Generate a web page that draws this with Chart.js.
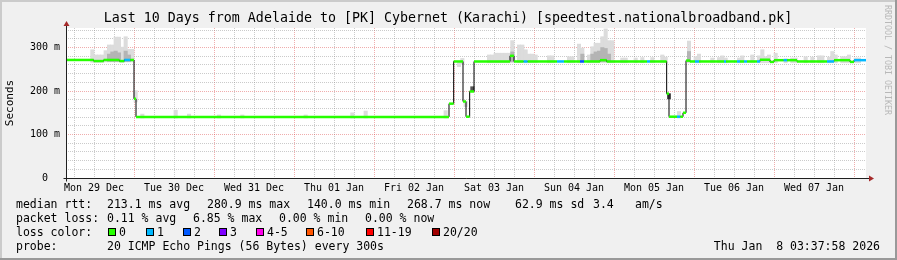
<!DOCTYPE html>
<html>
<head>
<meta charset="utf-8">
<script src="https://cdn.jsdelivr.net/npm/chart.js@4/dist/chart.umd.min.js"></script>
<style>
  html, body { margin: 0; padding: 0; background: #f0f0f0; }
  canvas { display: block; }
</style>
</head>
<body>
<canvas id="smokeChart" width="897" height="260"></canvas>
<script>
const DAY_LABELS = ['Mon 29 Dec', 'Tue 30 Dec', 'Wed 31 Dec', 'Thu 01 Jan', 'Fri 02 Jan',
                    'Sat 03 Jan', 'Sun 04 Jan', 'Mon 05 Jan', 'Tue 06 Jan', 'Wed 07 Jan'];
const Y_LABELS = ['0  ', '100 m', '200 m', '300 m'];

const LOSS_LABELS = ['0', '1', '2', '3', '4-5', '6-10', '11-19', '20/20'];
const LOSS_COLORS = ['#26ff00', '#00b8ff', '#0059ff', '#7e00ff', '#ff00ea', '#ff5500', '#ff0000', '#a10000'];

// hours since Mon 29 Dec 00:00
const START_HOUR = 3.6;
const END_HOUR = 243.6;

// median rtt (ms), each value holds until the next change point
const medianHours = [3.6, 11.9, 14.9, 19.6, 21.1, 22.9, 24, 24.6, 118.5, 119.9,
                     122.7, 123.6, 124.7, 126, 136.8, 138, 140.9, 142.1, 150.9, 153,
                     157.8, 159, 163.8, 165.8, 177.9, 178.8, 183.8, 184.5, 186.9, 187.9,
                     188.7, 189.6, 190.8, 192.3, 193.5, 201, 201.6, 204.9, 205.8, 207,
                     207.9, 210.9, 211.8, 214.8, 216, 218.9, 219.9, 222.9, 231.9, 234,
                     238.8, 240];
const medianMs = [271.5, 269, 271.5, 269, 271.5, 271.5, 182, 140.5, 171, 268,
                  176, 141, 199, 268, 281, 268, 268, 268, 268, 268,
                  268, 268, 271, 268, 268, 268, 194, 141, 141, 141,
                  150, 270, 268, 268, 268, 268, 268, 268, 268, 268,
                  268, 268, 272, 267, 271, 271, 271, 268, 268, 271,
                  267, 271];
const medianLoss = [0, 0, 0, 0, 1, 0, 0, 0, 0, 0,
                    0, 0, 0, 0, 0, 0, 1, 0, 1, 0,
                    2, 0, 0, 0, 1, 0, 0, 0, 1, 0,
                    0, 0, 0, 1, 0, 1, 0, 1, 0, 1,
                    0, 1, 0, 0, 0, 1, 0, 0, 1, 0,
                    0, 1];

// smoke: hourly slots, min..max ping (ms)
const smokeHours = [11, 12, 13, 14, 15, 16, 17, 18, 19, 20, 21, 22, 23, 24,
                    26, 36, 40, 49, 56, 75, 89, 93, 117,
                    121, 122, 123, 130, 131, 132, 133, 134, 135, 136, 137, 139, 140,
                    141, 142, 143, 144, 148, 149, 154, 155, 157, 158, 160, 161, 162,
                    163, 164, 165, 166, 167, 170, 171, 174, 176, 179, 182, 183, 187,
                    190, 192, 193, 197, 199, 200, 201, 205, 206, 209, 211, 212, 213,
                    214, 216, 219, 221, 222, 225, 227, 229, 230, 232, 233, 234, 236,
                    237, 238, 240, 241];
const smokeLow = [266, 266, 266, 266, 267, 267, 267, 267, 267, 266, 267, 267, 267, 175,
                  138, 138, 138, 138, 138, 138, 138, 138, 138,
                  256, 262, 164, 265, 265, 265, 265, 265, 265, 265, 265, 265, 265,
                  265, 265, 265, 265, 265, 265, 265, 265, 265, 265, 265, 265, 265,
                  265, 265, 265, 265, 265, 265, 265, 265, 265, 265, 265, 265, 138,
                  265, 265, 265, 265, 265, 265, 265, 265, 265, 265, 265, 265, 265,
                  265, 265, 265, 265, 265, 265, 265, 265, 265, 265, 265, 265, 265,
                  265, 265, 265, 265];
const smokeHigh = [295, 283, 283, 283, 293, 306, 306, 324, 324, 301, 325, 296, 296, 201,
                   147, 156, 147, 145, 145, 145, 150, 154, 155,
                   268, 275, 176, 283, 283, 287, 287, 287, 287, 287, 316, 306, 306,
                   295, 285, 285, 283, 281, 281, 279, 279, 308, 299, 283, 302, 310,
                   310, 325, 343, 316, 316, 276, 276, 276, 277, 277, 283, 278, 153,
                   315, 279, 285, 276, 277, 281, 276, 276, 281, 283, 281, 295, 279,
                   283, 287, 274, 276, 276, 279, 278, 281, 281, 278, 291, 283, 279,
                   279, 283, 276, 276];

// denser core of the smoke
const coreHours = [16, 17, 18, 19, 21, 22, 125, 137, 158, 161, 162, 163, 164, 165, 166, 184, 190];
const coreLow = [268, 268, 268, 268, 268, 268, 199, 268, 268, 268, 268, 268, 268, 268, 268, 182, 268];
const coreHigh = [285, 290, 292, 288, 292, 283, 210, 290, 285, 285, 290, 292, 300, 298, 285, 194, 291];

const RTT_STATS = ['213.1 ms avg', '280.9 ms max', '140.0 ms min', '268.7 ms now', '62.9 ms sd', '3.4', 'am/s'];
const LOSS_STATS = ['0.11 % avg', '6.85 % max', '0.00 % min', '0.00 % now'];
const TITLE = 'Last 10 Days from Adelaide to [PK] Cybernet (Karachi) [speedtest.nationalbroadband.pk]';
const PROBE = '20 ICMP Echo Pings (56 Bytes) every 300s';
const STAMP = 'Thu Jan  8 03:37:58 2026';

const MONO = '"DejaVu Sans Mono", "Liberation Mono", monospace';
const GRID = { minor: 'rgba(140, 140, 140, 0.45)', major: 'rgba(220, 60, 60, 0.42)' };

const xTicks = Array.from({ length: 40 }, (_, i) => ({ value: 6 * (i + 1) }));
const yTicks = Array.from({ length: 18 }, (_, i) => ({ value: 20 * i }));

const medianPoints = medianHours.map((h, i) => ({ x: h, y: medianMs[i] }))
    .concat([{ x: END_HOUR, y: medianMs[medianMs.length - 1] }]);

// one horizontal piece per change point, broken by a null so the verticals stay black
const lossPieces = medianHours.flatMap((h, i) => {
    const end = i + 1 < medianHours.length ? medianHours[i + 1] : END_HOUR;
    return [{ x: h, y: medianMs[i] }, { x: end, y: medianMs[i] }, { x: end, y: null }];
});

const toBars = (hours, low, high) => hours.map((h, i) => ({ x: h + 0.5, y: [low[i], high[i]] }));

const rrdFrame = {
    id: 'rrdFrame',
    beforeDraw(chart) {
        const { ctx, chartArea: a, width, height } = chart;
        ctx.save();
        ctx.fillStyle = '#f0f0f0';
        ctx.fillRect(0, 0, width, height);
        ctx.fillStyle = '#cbcbcb';
        ctx.fillRect(0, 0, width, 2);
        ctx.fillRect(0, 0, 2, height);
        ctx.fillStyle = '#999999';
        ctx.fillRect(0, height - 2, width, 2);
        ctx.fillRect(width - 2, 0, 2, height);
        ctx.fillStyle = '#ffffff';
        ctx.fillRect(a.left, a.top, a.right - a.left, a.bottom - a.top);
        ctx.restore();
    },
    afterDraw(chart) {
        const { ctx, chartArea: a } = chart;
        const ax = Math.floor(a.left) + 0.5;
        const ay = Math.floor(a.bottom) + 0.5;
        ctx.save();

        // axes with arrows
        ctx.strokeStyle = '#202020';
        ctx.lineWidth = 1;
        ctx.beginPath();
        ctx.moveTo(ax, ay + 3);
        ctx.lineTo(ax, a.top - 3);
        ctx.moveTo(ax - 3, ay);
        ctx.lineTo(a.right + 4, ay);
        ctx.stroke();
        ctx.fillStyle = '#a52a2a';
        ctx.beginPath();
        ctx.moveTo(ax - 3, a.top - 2);
        ctx.lineTo(ax + 3, a.top - 2);
        ctx.lineTo(ax, a.top - 7);
        ctx.closePath();
        ctx.fill();
        ctx.beginPath();
        ctx.moveTo(a.right + 3, ay - 3);
        ctx.lineTo(a.right + 3, ay + 3);
        ctx.lineTo(a.right + 8, ay);
        ctx.closePath();
        ctx.fill();

        // title
        ctx.fillStyle = '#000';
        ctx.font = `13.3px ${MONO}`;
        ctx.textAlign = 'center';
        ctx.textBaseline = 'alphabetic';
        ctx.fillText(TITLE, 448, 22);

        // legend block
        ctx.font = `11.5px ${MONO}`;
        ctx.textAlign = 'left';
        ctx.fillText('median rtt:', 16, 208);
        [107, 207, 307, 407, 515, 593, 635].forEach((x, i) => ctx.fillText(RTT_STATS[i], x, 208));
        ctx.fillText('packet loss:', 16, 222);
        [107, 193, 279, 365].forEach((x, i) => ctx.fillText(LOSS_STATS[i], x, 222));
        ctx.fillText('loss color:', 16, 236);
        [108, 146, 183, 219, 256, 306, 366, 432].forEach((x, i) => {
            ctx.fillStyle = LOSS_COLORS[i];
            ctx.fillRect(x, 228, 8, 8);
            ctx.strokeStyle = '#000';
            ctx.strokeRect(x + 0.5, 228.5, 7, 7);
            ctx.fillStyle = '#000';
            ctx.fillText(LOSS_LABELS[i], x + 11, 236);
        });
        ctx.fillText('probe:', 16, 250);
        ctx.fillText(PROBE, 107, 250);
        ctx.textAlign = 'right';
        ctx.fillText(STAMP, 880, 250);

        // watermark
        ctx.translate(887, 5);
        ctx.rotate(Math.PI / 2);
        ctx.font = `8.3px ${MONO}`;
        ctx.fillStyle = '#b8b8b8';
        ctx.textAlign = 'left';
        ctx.textBaseline = 'middle';
        ctx.fillText('RRDTOOL / TOBI OETIKER', 0, 0);
        ctx.restore();
    },
};

function init() {
    const canvas = document.getElementById('smokeChart');
    new Chart(canvas.getContext('2d'), {
        type: 'line',
        data: {
            datasets: [
                {
                    type: 'line',
                    data: lossPieces,
                    borderWidth: 2.5,
                    borderColor: LOSS_COLORS[0],
                    borderCapStyle: 'butt',
                    segment: { borderColor: c => LOSS_COLORS[medianLoss[Math.floor(c.p0DataIndex / 3)]] },
                    pointRadius: 0,
                    spanGaps: false,
                    order: 1,
                },
                {
                    type: 'line',
                    data: medianPoints,
                    stepped: true,
                    borderColor: '#000000',
                    borderWidth: 1,
                    pointRadius: 0,
                    order: 2,
                },
                {
                    type: 'bar',
                    data: toBars(coreHours, coreLow, coreHigh),
                    backgroundColor: c => (c.raw && c.raw.y[0] < 250 ? '#555555' : '#b4b4b4'),
                    barThickness: 3.4,
                    grouped: false,
                    borderWidth: 0,
                    order: 3,
                },
                {
                    type: 'bar',
                    data: toBars(smokeHours, smokeLow, smokeHigh),
                    backgroundColor: '#dcdcdc',
                    barThickness: 3.4,
                    grouped: false,
                    borderWidth: 0,
                    order: 4,
                },
            ],
        },
        options: {
            responsive: false,
            animation: false,
            devicePixelRatio: 1,
            layout: { padding: { top: 28, right: 31, bottom: 62, left: 0 } },
            plugins: { legend: { display: false }, tooltip: { enabled: false } },
            scales: {
                x: {
                    type: 'linear',
                    min: START_HOUR,
                    max: END_HOUR,
                    bounds: 'data',
                    offset: false,
                    afterBuildTicks: s => { s.ticks = xTicks.slice(); },
                    afterFit: s => { s.height = 20; },
                    grid: {
                        offset: false,
                        drawTicks: false,
                        lineWidth: 1,
                        color: c => (c.tick && c.tick.value % 24 === 0 ? GRID.major : GRID.minor),
                    },
                    border: { display: false, dash: [1, 1] },
                    ticks: {
                        autoSkip: false,
                        maxRotation: 0,
                        padding: 4,
                        color: '#000',
                        font: { family: MONO, size: 10 },
                        callback: v => (v % 24 === 12 ? DAY_LABELS[(v - 12) / 24] : ''),
                    },
                },
                y: {
                    type: 'linear',
                    min: 0,
                    max: 345,
                    bounds: 'data',
                    afterBuildTicks: s => { s.ticks = yTicks.slice(); },
                    afterFit: s => { s.width = 66; },
                    grid: {
                        drawTicks: false,
                        lineWidth: 1,
                        color: c => (c.tick && c.tick.value % 100 === 0 ? GRID.major : GRID.minor),
                    },
                    border: { display: false, dash: [1, 1] },
                    ticks: {
                        autoSkip: false,
                        padding: 6,
                        color: '#000',
                        font: { family: MONO, size: 10 },
                        callback: v => (v % 100 === 0 ? Y_LABELS[v / 100] : ''),
                    },
                    title: {
                        display: true,
                        text: 'Seconds',
                        color: '#000',
                        font: { family: MONO, size: 11 },
                        padding: { top: 4, bottom: 0 },
                    },
                },
            },
        },
        plugins: [rrdFrame],
    });
}

document.addEventListener('DOMContentLoaded', init);
</script>
</body>
</html>
